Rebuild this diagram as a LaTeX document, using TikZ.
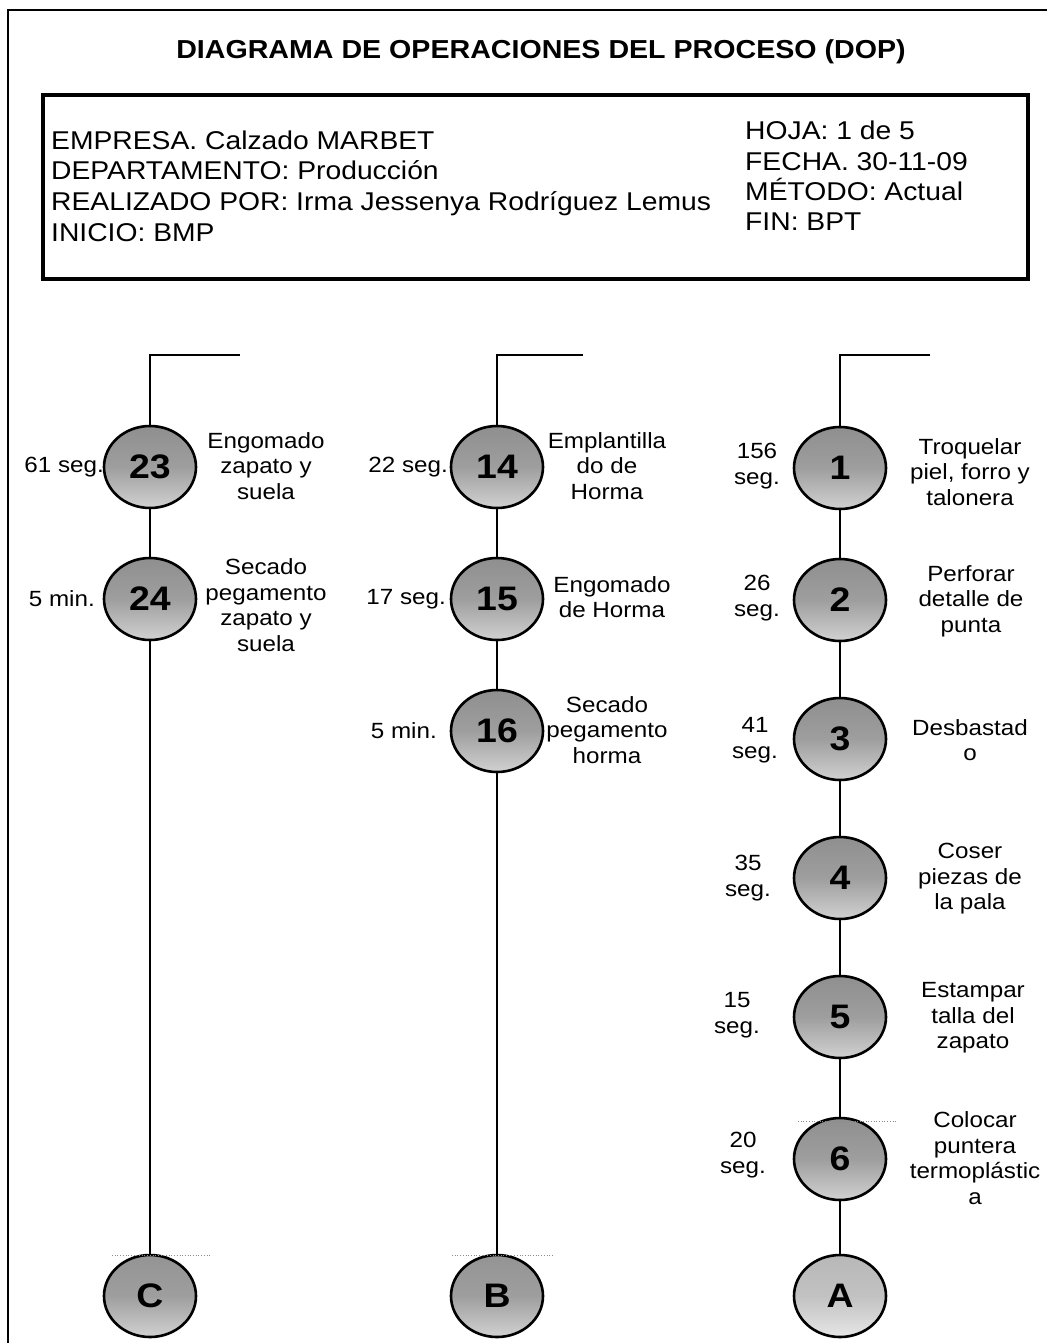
\documentclass[tikz,border=0pt]{standalone}
\usepackage{fontspec}
\setmainfont{Liberation Sans}[FakeStretch=1.1]
\usetikzlibrary{shapes.geometric}

\tikzset{
  opnode/.style={ellipse, draw=black, line width=2.6pt, minimum width=92pt,
    minimum height=82pt, inner sep=0pt, top color=black!44, bottom color=black!18,
    middle color=black!38, font=\fontsize{34}{34}\selectfont\bfseries},
  linknode/.style={opnode, top color=black!42, bottom color=black!18, middle color=black!38},
  lightlink/.style={opnode, top color=black!28, bottom color=black!10, middle color=black!24},
  flow/.style={line width=2pt},
  lbl/.style={align=center, inner sep=0pt, font=\fontsize{22}{25.5}\selectfont},
  tlbl/.style={lbl, anchor=east},
  faint/.style={draw=black!45, dotted, line width=0.7pt},
}

\begin{document}
\begin{tikzpicture}[x=1pt, y=-1pt]
\useasboundingbox (0,0) rectangle (1047,1343);

% page frame (open at right and bottom)
\draw[line width=1.6pt] (8,1343) -- (8,10) -- (1047,10);

% title
\node[font=\fontsize{26}{30}\selectfont\bfseries] (title) at (541,52)
  {DIAGRAMA DE OPERACIONES DEL PROCESO (DOP)};

% header box
\draw[line width=4pt] (43,95) rectangle (1028,279);
\node[align=left, anchor=west, inner sep=0pt,
      font=\fontsize{25.7}{30.6}\selectfont] (hdrL) at (51,186)
  {EMPRESA. Calzado MARBET\\DEPARTAMENTO: Producción\\REALIZADO POR: Irma Jessenya Rodríguez Lemus\\INICIO: BMP};
\node[align=left, anchor=west, inner sep=0pt,
      font=\fontsize{25.7}{30.4}\selectfont] (hdrR) at (745,176)
  {HOJA: 1 de 5\\FECHA. 30-11-09\\MÉTODO: Actual\\FIN: BPT};

% ---------- left column ----------
\node[opnode] (c23) at (150,467) {23};
\node[opnode] (c24) at (150,599) {24};
\node[linknode] (cC) at (150,1296) {C};
\coordinate (inL) at (240,355);
\draw[flow] (inL) -| (c23);
\draw[flow] (c23) -- (c24);
\draw[flow] (c24) -- (cC);
\draw[faint] (112,1255) -- (210,1255);
\node[tlbl] (t23) at (104,467) {61 seg.};
\node[tlbl] (t24) at (95,599) {5 min.};
\node[lbl] (d23) at (266,466) {Engomado\\zapato y\\suela};
\node[lbl] (d24) at (266,605) {Secado\\pegamento\\zapato y\\suela};

% ---------- middle column ----------
\node[opnode] (c14) at (497,467) {14};
\node[opnode] (c15) at (497,599) {15};
\node[opnode] (c16) at (497,731) {16};
\node[linknode] (cB) at (497,1296) {B};
\coordinate (inM) at (583,355);
\draw[flow] (inM) -| (c14);
\draw[flow] (c14) -- (c15);
\draw[flow] (c15) -- (c16);
\draw[flow] (c16) -- (cB);
\draw[faint] (452,1255) -- (553,1255);
\node[tlbl] (t14) at (448,467) {22 seg.};
\node[tlbl] (t15) at (446,599) {17 seg.};
\node[tlbl] (t16) at (437,731) {5 min.};
\node[lbl] (d14) at (607,466) {Emplantilla\\do de\\Horma};
\node[lbl] (d15) at (612,597) {Engomado\\de Horma};
\node[lbl] (d16) at (607,730) {Secado\\pegamento\\horma};

% ---------- right column ----------
\node[opnode] (c1) at (840,468) {1};
\node[opnode] (c2) at (840,600) {2};
\node[opnode] (c3) at (840,739) {3};
\node[opnode] (c4) at (840,878) {4};
\node[opnode] (c5) at (840,1017) {5};
\node[opnode] (c6) at (840,1159) {6};
\node[lightlink] (cA) at (840,1296) {A};
\coordinate (inR) at (930,355);
\draw[flow] (inR) -| (c1);
\draw[flow] (c1) -- (c2);
\draw[flow] (c2) -- (c3);
\draw[flow] (c3) -- (c4);
\draw[flow] (c4) -- (c5);
\draw[flow] (c5) -- (c6);
\draw[flow] (c6) -- (cA);
\draw[faint] (798,1121) -- (897,1121);
\node[lbl] (t1) at (757,466) {156\\seg.};
\node[lbl] (t2) at (757,598) {26\\seg.};
\node[lbl] (t3) at (755,740) {41\\seg.};
\node[lbl] (t4) at (748,878) {35\\seg.};
\node[lbl] (t5) at (737,1015) {15\\seg.};
\node[lbl] (t6) at (743,1155) {20\\seg.};
\node[lbl] (d1) at (970,472) {Troquelar\\piel, forro y\\talonera};
\node[lbl] (d2) at (971,601) {Perforar\\detalle de\\punta};
\node[lbl] (d3) at (970,740) {Desbastad\\o};
\node[lbl] (d4) at (970,879) {Coser\\piezas de\\la pala};
\node[lbl] (d5) at (973,1018) {Estampar\\talla del\\zapato};
\node[lbl] (d6) at (975,1158) {Colocar\\puntera\\termoplástic\\a};
\end{tikzpicture}
\end{document}
